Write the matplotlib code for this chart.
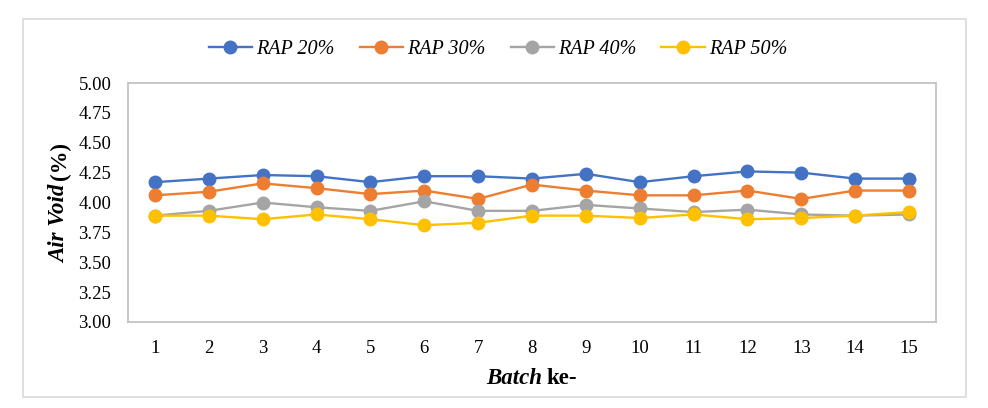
import matplotlib
matplotlib.use("Agg")
import matplotlib.pyplot as plt
from matplotlib.patches import Rectangle

batches = list(range(1, 16))
rap20 = [4.17, 4.20, 4.23, 4.22, 4.17, 4.22, 4.22, 4.20, 4.24, 4.17, 4.22, 4.26, 4.25, 4.20, 4.20]
rap30 = [4.06, 4.09, 4.16, 4.12, 4.07, 4.10, 4.03, 4.15, 4.10, 4.06, 4.06, 4.10, 4.03, 4.10, 4.10]
rap40 = [3.89, 3.93, 4.00, 3.96, 3.93, 4.01, 3.93, 3.93, 3.98, 3.95, 3.92, 3.94, 3.90, 3.89, 3.90]
rap50 = [3.89, 3.89, 3.86, 3.90, 3.86, 3.81, 3.83, 3.89, 3.89, 3.87, 3.90, 3.86, 3.87, 3.89, 3.92]
series_names = ["RAP 20%", "RAP 30%", "RAP 40%", "RAP 50%"]
colors = ["#4472C4", "#ED7D31", "#A5A5A5", "#FFC000"]
yticks = [3.00, 3.25, 3.50, 3.75, 4.00, 4.25, 4.50, 4.75, 5.00]

plt.rcParams['font.family'] = ['Liberation Serif', 'DejaVu Serif']

W, H = 988, 408
fig = plt.figure(figsize=(W / 100, H / 100), dpi=100)
fig.patch.set_facecolor("white")

# outer chart border
fig.patches.append(Rectangle((23 / W, (H - 397) / H), 943 / W, 378 / H,
                             transform=fig.transFigure, fill=False,
                             edgecolor="#D9D9D9", linewidth=1.2))

ax = fig.add_axes([128 / W, (H - 322) / H, 808 / W, 239 / H])
for vals, c, name in zip([rap20, rap30, rap40, rap50], colors, series_names):
    ax.plot(batches, vals, color=c, linewidth=1.7, marker="o", markersize=9,
            label=name, zorder=3)

ax.set_xlim(0.5, 15.5)
ax.set_ylim(3.0, 5.0)
ax.set_xticks(batches)
ax.set_xticklabels([str(b) for b in batches])
ax.set_yticks(yticks)
ax.set_yticklabels([f"{v:.2f}" for v in yticks])
ax.tick_params(axis="both", length=0, labelsize=13.5, colors="#000000")
ax.tick_params(axis="y", pad=12)
ax.tick_params(axis="x", pad=13)
for s in ax.spines.values():
    s.set_color("#BFBFBF")
    s.set_linewidth(1.2)

leg = fig.legend(loc="center", bbox_to_anchor=(498 / W, (H - 49) / H), ncol=4,
                 frameon=False, prop={"style": "italic", "size": 14.5},
                 handlelength=2.15, handletextpad=0.2, columnspacing=1.25)

# axis labels with mixed styles
fig.canvas.draw()
r = fig.canvas.get_renderer()

# y label: "Air Void" bold italic + "(%)" bold, rotated
cy = H - 202.5
t1 = fig.text(0, 0, "Air Void", rotation=90, fontsize=16.5, fontweight="bold",
              fontstyle="italic", ha="center", va="bottom", transform=None)
t2 = fig.text(0, 0, "(%)", rotation=90, fontsize=16.5, fontweight="bold",
              ha="center", va="bottom", transform=None)
h1 = t1.get_window_extent(r).height
h2 = t2.get_window_extent(r).height
gap = 4
total = h1 + gap + h2
x0 = 60
t1.set_position((x0, cy - total / 2))
t2.set_position((x0, cy - total / 2 + h1 + gap))

# x label: "Batch" bold italic + "ke-" bold
cx = 532
ylab = H - 378
b1 = fig.text(0, 0, "Batch", fontsize=16.5, fontweight="bold", fontstyle="italic",
              ha="left", va="center", transform=None)
b2 = fig.text(0, 0, "ke-", fontsize=16.5, fontweight="bold",
              ha="left", va="center", transform=None)
w1 = b1.get_window_extent(r).width
w2 = b2.get_window_extent(r).width
gapx = 4
totw = w1 + gapx + w2
b1.set_position((cx - totw / 2, ylab))
b2.set_position((cx - totw / 2 + w1 + gapx, ylab))

fig.savefig("out.png", dpi=100, facecolor="white")
